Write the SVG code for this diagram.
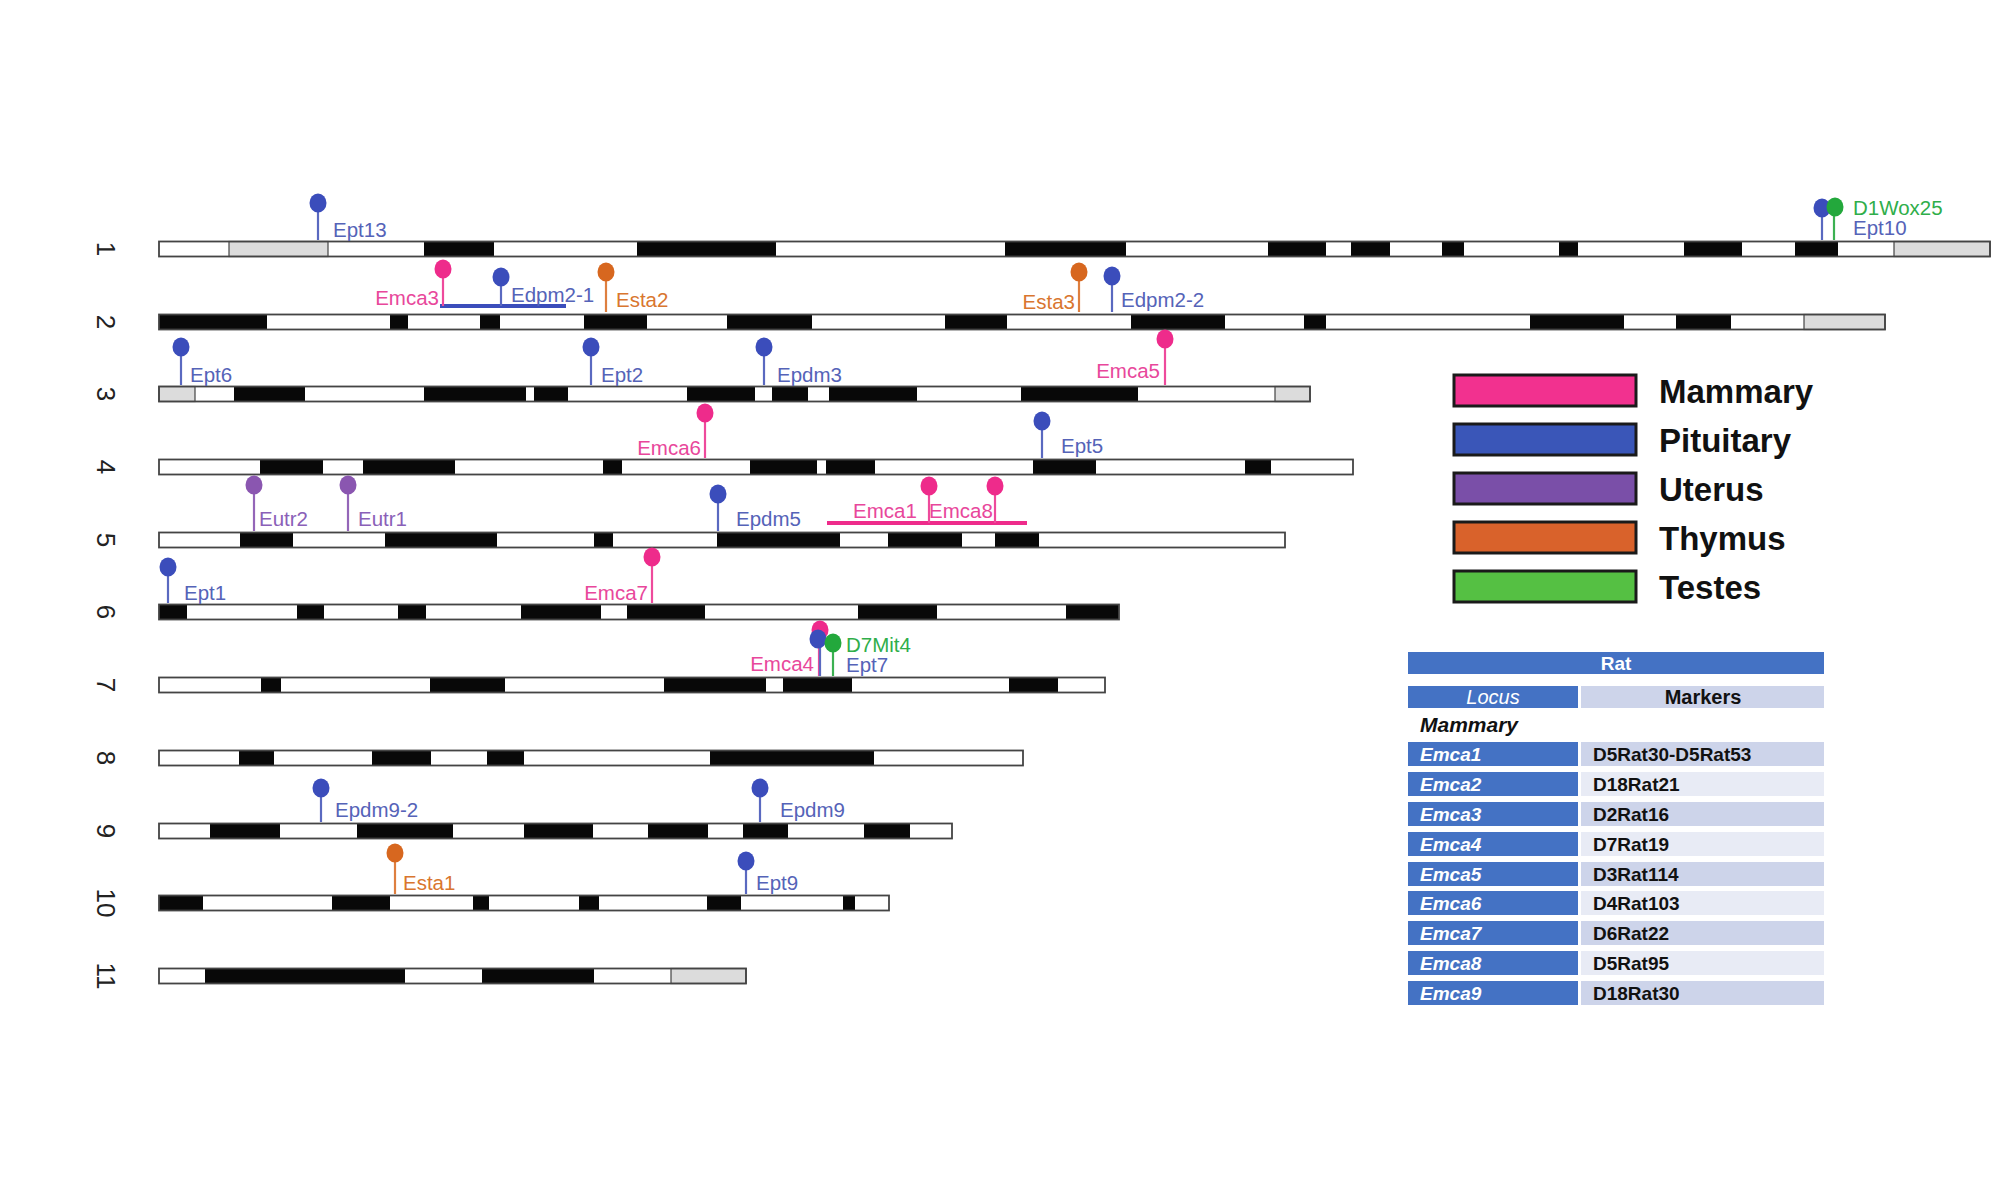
<svg xmlns="http://www.w3.org/2000/svg" width="2000" height="1200" viewBox="0 0 2000 1200">
<style>
.bar{fill:none;stroke:#444;stroke-width:1.8}
.bg{fill:#fff}
.b{fill:#080808}
.g{fill:#dcdcdc;stroke:#444;stroke-width:1.2}
.num{font-family:"Liberation Sans",Arial,sans-serif;font-size:26px;fill:#222}
.lbl text{font-family:"Liberation Sans",Arial,sans-serif;font-size:20.5px}
.lbl line{stroke-width:2.2}
.lbl ellipse{}
.pk ellipse{fill:#ee2b8b}.pk line{stroke:#ee4a9c}.pk text{fill:#e8479b}
.bl ellipse{fill:#3b4dbb}.bl line{stroke:#5a69c0}.bl text{fill:#5563b8}
.pu ellipse{fill:#8a56b0}.pu line{stroke:#9466b8}.pu text{fill:#8a60b8}
.or ellipse{fill:#d7671f}.or line{stroke:#de7f3f}.or text{fill:#d9762f}
.gr ellipse{fill:#23a83c}.gr line{stroke:#3cb152}.gr text{fill:#2fae4a}
.leg rect{stroke:#1a1a1a;stroke-width:3}
.leg text{font-family:"Liberation Sans",Arial,sans-serif;font-size:33px;font-weight:bold;fill:#111}
.tb text{font-family:"Liberation Sans",Arial,sans-serif;font-size:19px;font-weight:bold}
.lc{fill:#4472c4}.m1{fill:#cdd4ea}.m2{fill:#e8ebf5}
.et{fill:#fff;font-style:italic}
.mt{fill:#111}
</style>

<!-- chromosome numbers -->
<g id="numbers">
<text class="num" transform="translate(106,249) rotate(90)" text-anchor="middle" dominant-baseline="central">1</text>
<text class="num" transform="translate(106,322) rotate(90)" text-anchor="middle" dominant-baseline="central">2</text>
<text class="num" transform="translate(106,394) rotate(90)" text-anchor="middle" dominant-baseline="central">3</text>
<text class="num" transform="translate(106,467) rotate(90)" text-anchor="middle" dominant-baseline="central">4</text>
<text class="num" transform="translate(106,540) rotate(90)" text-anchor="middle" dominant-baseline="central">5</text>
<text class="num" transform="translate(106,612) rotate(90)" text-anchor="middle" dominant-baseline="central">6</text>
<text class="num" transform="translate(106,685) rotate(90)" text-anchor="middle" dominant-baseline="central">7</text>
<text class="num" transform="translate(106,758) rotate(90)" text-anchor="middle" dominant-baseline="central">8</text>
<text class="num" transform="translate(106,831) rotate(90)" text-anchor="middle" dominant-baseline="central">9</text>
<text class="num" transform="translate(106,903) rotate(90)" text-anchor="middle" dominant-baseline="central">10</text>
<text class="num" transform="translate(106,976) rotate(90)" text-anchor="middle" dominant-baseline="central">11</text>
</g>

<!-- chromosomes -->
<g id="chr1">
<rect class="bg" x="159" y="241.5" width="1831" height="15"/>
<rect class="g" x="229" y="241.5" width="99" height="15"/>
<rect class="g" x="1894" y="241.5" width="96" height="15"/>
<rect class="b" x="424" y="241.5" width="70" height="15"/>
<rect class="b" x="637" y="241.5" width="139" height="15"/>
<rect class="b" x="1005" y="241.5" width="121" height="15"/>
<rect class="b" x="1268" y="241.5" width="58" height="15"/>
<rect class="b" x="1351" y="241.5" width="39" height="15"/>
<rect class="b" x="1442" y="241.5" width="22" height="15"/>
<rect class="b" x="1559" y="241.5" width="19" height="15"/>
<rect class="b" x="1684" y="241.5" width="58" height="15"/>
<rect class="b" x="1795" y="241.5" width="43" height="15"/>
<rect class="bar" x="159" y="241.5" width="1831" height="15"/>
</g>
<g id="chr2">
<rect class="bg" x="159" y="314.5" width="1726" height="15"/>
<rect class="b" x="159" y="314.5" width="108" height="15"/>
<rect class="b" x="390" y="314.5" width="18" height="15"/>
<rect class="b" x="480" y="314.5" width="20" height="15"/>
<rect class="b" x="584" y="314.5" width="63" height="15"/>
<rect class="b" x="727" y="314.5" width="85" height="15"/>
<rect class="b" x="945" y="314.5" width="62" height="15"/>
<rect class="b" x="1131" y="314.5" width="94" height="15"/>
<rect class="b" x="1304" y="314.5" width="22" height="15"/>
<rect class="b" x="1530" y="314.5" width="94" height="15"/>
<rect class="b" x="1676" y="314.5" width="55" height="15"/>
<rect class="g" x="1804" y="314.5" width="81" height="15"/>
<rect class="bar" x="159" y="314.5" width="1726" height="15"/>
</g>
<g id="chr3">
<rect class="bg" x="159" y="386.5" width="1151" height="15"/>
<rect class="g" x="159" y="386.5" width="36" height="15"/>
<rect class="b" x="234" y="386.5" width="71" height="15"/>
<rect class="b" x="424" y="386.5" width="102" height="15"/>
<rect class="b" x="534" y="386.5" width="34" height="15"/>
<rect class="b" x="687" y="386.5" width="68" height="15"/>
<rect class="b" x="772" y="386.5" width="36" height="15"/>
<rect class="b" x="829" y="386.5" width="88" height="15"/>
<rect class="b" x="1021" y="386.5" width="117" height="15"/>
<rect class="g" x="1275" y="386.5" width="35" height="15"/>
<rect class="bar" x="159" y="386.5" width="1151" height="15"/>
</g>
<g id="chr4">
<rect class="bg" x="159" y="459.5" width="1194" height="15"/>
<rect class="b" x="260" y="459.5" width="63" height="15"/>
<rect class="b" x="363" y="459.5" width="92" height="15"/>
<rect class="b" x="603" y="459.5" width="19" height="15"/>
<rect class="b" x="750" y="459.5" width="67" height="15"/>
<rect class="b" x="826" y="459.5" width="49" height="15"/>
<rect class="b" x="1033" y="459.5" width="63" height="15"/>
<rect class="b" x="1245" y="459.5" width="26" height="15"/>
<rect class="bar" x="159" y="459.5" width="1194" height="15"/>
</g>
<g id="chr5">
<rect class="bg" x="159" y="532.5" width="1126" height="15"/>
<rect class="b" x="240" y="532.5" width="53" height="15"/>
<rect class="b" x="385" y="532.5" width="112" height="15"/>
<rect class="b" x="594" y="532.5" width="19" height="15"/>
<rect class="b" x="717" y="532.5" width="123" height="15"/>
<rect class="b" x="888" y="532.5" width="74" height="15"/>
<rect class="b" x="995" y="532.5" width="44" height="15"/>
<rect class="bar" x="159" y="532.5" width="1126" height="15"/>
</g>
<g id="chr6">
<rect class="bg" x="159" y="604.5" width="960" height="15"/>
<rect class="b" x="159" y="604.5" width="28" height="15"/>
<rect class="b" x="297" y="604.5" width="27" height="15"/>
<rect class="b" x="398" y="604.5" width="28" height="15"/>
<rect class="b" x="521" y="604.5" width="80" height="15"/>
<rect class="b" x="627" y="604.5" width="78" height="15"/>
<rect class="b" x="858" y="604.5" width="79" height="15"/>
<rect class="b" x="1066" y="604.5" width="53" height="15"/>
<rect class="bar" x="159" y="604.5" width="960" height="15"/>
</g>
<g id="chr7">
<rect class="bg" x="159" y="677.5" width="946" height="15"/>
<rect class="b" x="261" y="677.5" width="20" height="15"/>
<rect class="b" x="430" y="677.5" width="75" height="15"/>
<rect class="b" x="664" y="677.5" width="102" height="15"/>
<rect class="b" x="783" y="677.5" width="69" height="15"/>
<rect class="b" x="1009" y="677.5" width="49" height="15"/>
<rect class="bar" x="159" y="677.5" width="946" height="15"/>
</g>
<g id="chr8">
<rect class="bg" x="159" y="750.5" width="864" height="15"/>
<rect class="b" x="239" y="750.5" width="35" height="15"/>
<rect class="b" x="372" y="750.5" width="59" height="15"/>
<rect class="b" x="487" y="750.5" width="37" height="15"/>
<rect class="b" x="710" y="750.5" width="164" height="15"/>
<rect class="bar" x="159" y="750.5" width="864" height="15"/>
</g>
<g id="chr9">
<rect class="bg" x="159" y="823.5" width="793" height="15"/>
<rect class="b" x="210" y="823.5" width="70" height="15"/>
<rect class="b" x="357" y="823.5" width="96" height="15"/>
<rect class="b" x="524" y="823.5" width="69" height="15"/>
<rect class="b" x="648" y="823.5" width="60" height="15"/>
<rect class="b" x="743" y="823.5" width="45" height="15"/>
<rect class="b" x="864" y="823.5" width="46" height="15"/>
<rect class="bar" x="159" y="823.5" width="793" height="15"/>
</g>
<g id="chr10">
<rect class="bg" x="159" y="895.5" width="730" height="15"/>
<rect class="b" x="159" y="895.5" width="44" height="15"/>
<rect class="b" x="332" y="895.5" width="58" height="15"/>
<rect class="b" x="473" y="895.5" width="16" height="15"/>
<rect class="b" x="579" y="895.5" width="20" height="15"/>
<rect class="b" x="707" y="895.5" width="34" height="15"/>
<rect class="b" x="843" y="895.5" width="12" height="15"/>
<rect class="bar" x="159" y="895.5" width="730" height="15"/>
</g>
<g id="chr11">
<rect class="bg" x="159" y="968.5" width="587" height="15"/>
<rect class="b" x="205" y="968.5" width="200" height="15"/>
<rect class="b" x="482" y="968.5" width="112" height="15"/>
<rect class="g" x="671" y="968.5" width="75" height="15"/>
<rect class="bar" x="159" y="968.5" width="587" height="15"/>
</g>

<!-- QTL intervals -->
<g id="intervals">
<line x1="440" y1="306" x2="566" y2="306" stroke="#3b4dbb" stroke-width="4"/>
<line x1="827" y1="523" x2="1027" y2="523" stroke="#ee2b8b" stroke-width="4"/>
</g>

<!-- loci -->
<g class="lbl">
<g id="Ept13" class="bl"><line x1="318" y1="203" x2="318" y2="240"/><ellipse cx="318" cy="203" rx="8.5" ry="9.5"/><text x="333" y="237">Ept13</text></g>
<g id="Ept10" class="bl"><line x1="1822" y1="208" x2="1822" y2="240"/><ellipse cx="1822" cy="208" rx="8.5" ry="9.5"/><text x="1853" y="235">Ept10</text></g>
<g id="D1Wox25" class="gr"><line x1="1834" y1="207" x2="1834" y2="240"/><ellipse cx="1835" cy="207" rx="8.5" ry="9.5"/><text x="1853" y="215">D1Wox25</text></g>

<g id="Emca3" class="pk"><line x1="443" y1="269" x2="443" y2="306"/><ellipse cx="443" cy="269" rx="8.5" ry="9.5"/><text x="439" y="305" text-anchor="end">Emca3</text></g>
<g id="Edpm2-1" class="bl"><line x1="501" y1="277" x2="501" y2="306"/><ellipse cx="501" cy="277" rx="8.5" ry="9.5"/><text x="511" y="302">Edpm2-1</text></g>
<g id="Esta2" class="or"><line x1="606" y1="272" x2="606" y2="312"/><ellipse cx="606" cy="272" rx="8.5" ry="9.5"/><text x="616" y="307">Esta2</text></g>
<g id="Esta3" class="or"><line x1="1079" y1="272" x2="1079" y2="312"/><ellipse cx="1079" cy="272" rx="8.5" ry="9.5"/><text x="1075" y="309" text-anchor="end">Esta3</text></g>
<g id="Edpm2-2" class="bl"><line x1="1112" y1="276" x2="1112" y2="312"/><ellipse cx="1112" cy="276" rx="8.5" ry="9.5"/><text x="1121" y="307">Edpm2-2</text></g>

<g id="Ept6" class="bl"><line x1="181" y1="347" x2="181" y2="385"/><ellipse cx="181" cy="347" rx="8.5" ry="9.5"/><text x="190" y="382">Ept6</text></g>
<g id="Ept2" class="bl"><line x1="591" y1="347" x2="591" y2="385"/><ellipse cx="591" cy="347" rx="8.5" ry="9.5"/><text x="601" y="382">Ept2</text></g>
<g id="Epdm3" class="bl"><line x1="764" y1="347" x2="764" y2="385"/><ellipse cx="764" cy="347" rx="8.5" ry="9.5"/><text x="777" y="382">Epdm3</text></g>
<g id="Emca5" class="pk"><line x1="1165" y1="339" x2="1165" y2="385"/><ellipse cx="1165" cy="339" rx="8.5" ry="9.5"/><text x="1160" y="378" text-anchor="end">Emca5</text></g>

<g id="Emca6" class="pk"><line x1="705" y1="413" x2="705" y2="458"/><ellipse cx="705" cy="413" rx="8.5" ry="9.5"/><text x="701" y="455" text-anchor="end">Emca6</text></g>
<g id="Ept5" class="bl"><line x1="1042" y1="421" x2="1042" y2="458"/><ellipse cx="1042" cy="421" rx="8.5" ry="9.5"/><text x="1061" y="453">Ept5</text></g>

<g id="Eutr2" class="pu"><line x1="254" y1="485" x2="254" y2="531"/><ellipse cx="254" cy="485" rx="8.5" ry="9.5"/><text x="259" y="526">Eutr2</text></g>
<g id="Eutr1" class="pu"><line x1="348" y1="485" x2="348" y2="531"/><ellipse cx="348" cy="485" rx="8.5" ry="9.5"/><text x="358" y="526">Eutr1</text></g>
<g id="Epdm5" class="bl"><line x1="718" y1="494" x2="718" y2="531"/><ellipse cx="718" cy="494" rx="8.5" ry="9.5"/><text x="736" y="526">Epdm5</text></g>
<g id="Emca1" class="pk"><line x1="929" y1="486" x2="929" y2="523"/><ellipse cx="929" cy="486" rx="8.5" ry="9.5"/><text x="853" y="518">Emca1</text></g>
<g id="Emca8" class="pk"><line x1="995" y1="486" x2="995" y2="523"/><ellipse cx="995" cy="486" rx="8.5" ry="9.5"/><text x="929" y="518">Emca8</text></g>

<g id="Ept1" class="bl"><line x1="168" y1="567" x2="168" y2="603"/><ellipse cx="168" cy="567" rx="8.5" ry="9.5"/><text x="184" y="600">Ept1</text></g>
<g id="Emca7" class="pk"><line x1="652" y1="557" x2="652" y2="603"/><ellipse cx="652" cy="557" rx="8.5" ry="9.5"/><text x="648" y="600" text-anchor="end">Emca7</text></g>

<g id="Emca4" class="pk"><line x1="819" y1="630" x2="819" y2="676"/><ellipse cx="820" cy="630" rx="8.5" ry="9.5"/><text x="814" y="671" text-anchor="end">Emca4</text></g>
<g id="Ept7" class="bl"><line x1="820" y1="639" x2="820" y2="676"/><ellipse cx="818" cy="639" rx="8.5" ry="9.5"/><text x="846" y="672">Ept7</text></g>
<g id="D7Mit4" class="gr"><line x1="833" y1="643" x2="833" y2="676"/><ellipse cx="833" cy="643" rx="8.5" ry="9.5"/><text x="846" y="652">D7Mit4</text></g>

<g id="Epdm9-2" class="bl"><line x1="321" y1="788" x2="321" y2="822"/><ellipse cx="321" cy="788" rx="8.5" ry="9.5"/><text x="335" y="817">Epdm9-2</text></g>
<g id="Epdm9" class="bl"><line x1="760" y1="788" x2="760" y2="822"/><ellipse cx="760" cy="788" rx="8.5" ry="9.5"/><text x="780" y="817">Epdm9</text></g>

<g id="Esta1" class="or"><line x1="395" y1="853" x2="395" y2="894"/><ellipse cx="395" cy="853" rx="8.5" ry="9.5"/><text x="403" y="890">Esta1</text></g>
<g id="Ept9" class="bl"><line x1="746" y1="861" x2="746" y2="894"/><ellipse cx="746" cy="861" rx="8.5" ry="9.5"/><text x="756" y="890">Ept9</text></g>
</g>

<!-- legend -->
<g id="legend" class="leg">
<rect x="1454" y="375" width="182" height="31" fill="#f2318f"/><text x="1659" y="403">Mammary</text>
<rect x="1454" y="424" width="182" height="31" fill="#3a56b8"/><text x="1659" y="452">Pituitary</text>
<rect x="1454" y="473" width="182" height="31" fill="#7a4fa8"/><text x="1659" y="501">Uterus</text>
<rect x="1454" y="522" width="182" height="31" fill="#d9622b"/><text x="1659" y="550">Thymus</text>
<rect x="1454" y="571" width="182" height="31" fill="#55c043"/><text x="1659" y="599">Testes</text>
</g>

<!-- table -->
<g id="table" class="tb">
<rect class="lc" x="1408" y="652" width="416" height="22"/>
<text x="1616" y="669.5" text-anchor="middle" fill="#fff" font-size="18">Rat</text>
<rect class="lc" x="1408" y="686" width="170" height="22"/>
<rect class="m1" x="1581" y="686" width="243" height="22"/>
<text x="1493" y="704" text-anchor="middle" class="et" style="font-weight:normal;font-size:20px">Locus</text>
<text x="1703" y="704" text-anchor="middle" class="mt" style="font-size:20px">Markers</text>
<text x="1420" y="732" class="mt" style="font-style:italic;font-size:21px">Mammary</text>

<rect class="lc" x="1408" y="742" width="170" height="24"/><rect class="m1" x="1581" y="742" width="243" height="24"/>
<text x="1420" y="760.5" class="et">Emca1</text><text x="1593" y="760.5" class="mt">D5Rat30-D5Rat53</text>
<rect class="lc" x="1408" y="772" width="170" height="24"/><rect class="m2" x="1581" y="772" width="243" height="24"/>
<text x="1420" y="790.5" class="et">Emca2</text><text x="1593" y="790.5" class="mt">D18Rat21</text>
<rect class="lc" x="1408" y="802" width="170" height="24"/><rect class="m1" x="1581" y="802" width="243" height="24"/>
<text x="1420" y="820.5" class="et">Emca3</text><text x="1593" y="820.5" class="mt">D2Rat16</text>
<rect class="lc" x="1408" y="832" width="170" height="24"/><rect class="m2" x="1581" y="832" width="243" height="24"/>
<text x="1420" y="850.5" class="et">Emca4</text><text x="1593" y="850.5" class="mt">D7Rat19</text>
<rect class="lc" x="1408" y="862" width="170" height="24"/><rect class="m1" x="1581" y="862" width="243" height="24"/>
<text x="1420" y="880.5" class="et">Emca5</text><text x="1593" y="880.5" class="mt">D3Rat114</text>
<rect class="lc" x="1408" y="891" width="170" height="24"/><rect class="m2" x="1581" y="891" width="243" height="24"/>
<text x="1420" y="909.5" class="et">Emca6</text><text x="1593" y="909.5" class="mt">D4Rat103</text>
<rect class="lc" x="1408" y="921" width="170" height="24"/><rect class="m1" x="1581" y="921" width="243" height="24"/>
<text x="1420" y="939.5" class="et">Emca7</text><text x="1593" y="939.5" class="mt">D6Rat22</text>
<rect class="lc" x="1408" y="951" width="170" height="24"/><rect class="m2" x="1581" y="951" width="243" height="24"/>
<text x="1420" y="969.5" class="et">Emca8</text><text x="1593" y="969.5" class="mt">D5Rat95</text>
<rect class="lc" x="1408" y="981" width="170" height="24"/><rect class="m1" x="1581" y="981" width="243" height="24"/>
<text x="1420" y="999.5" class="et">Emca9</text><text x="1593" y="999.5" class="mt">D18Rat30</text>
</g>
</svg>
